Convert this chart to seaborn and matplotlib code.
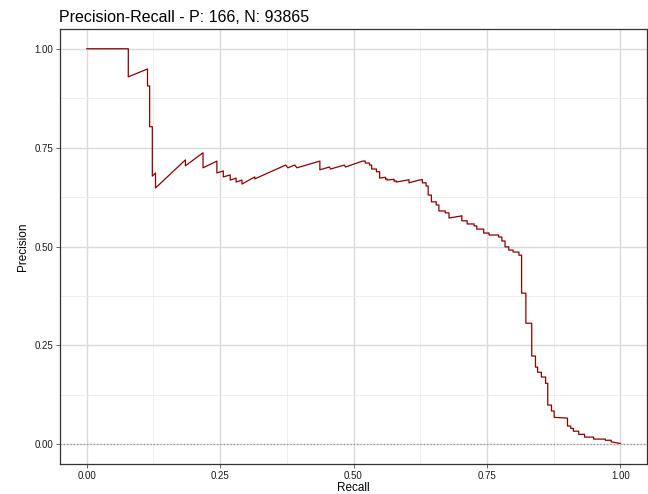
import matplotlib
matplotlib.use("Agg")
import matplotlib.pyplot as plt
import seaborn as sns
import pandas as pd

# Data
recall = [0.000, 0.078, 0.078, 0.114, 0.114, 0.118, 0.118, 0.123, 0.123, 0.129,
          0.129, 0.185, 0.185, 0.218, 0.218, 0.244, 0.244, 0.256, 0.256, 0.269,
          0.269, 0.280, 0.280, 0.291, 0.291, 0.315, 0.315, 0.373, 0.377, 0.390,
          0.394, 0.437, 0.437, 0.455, 0.457, 0.483, 0.485, 0.517,
          0.522, 0.522, 0.530, 0.530, 0.534, 0.534, 0.543, 0.543, 0.549, 0.549,
          0.560, 0.560, 0.563, 0.563, 0.576, 0.576, 0.580, 0.580, 0.601, 0.604,
          0.604, 0.623, 0.629, 0.629, 0.636, 0.636, 0.640, 0.640, 0.646, 0.646,
          0.655, 0.655, 0.660, 0.660, 0.672, 0.672, 0.679, 0.679, 0.701, 0.703,
          0.703, 0.713, 0.713, 0.726, 0.726, 0.731, 0.731, 0.744, 0.744, 0.754,
          0.754, 0.772, 0.772, 0.778, 0.778, 0.784, 0.784, 0.791, 0.791, 0.799,
          0.799, 0.810, 0.810, 0.815, 0.815, 0.823, 0.823, 0.834, 0.834, 0.841,
          0.841, 0.845, 0.845, 0.852, 0.852, 0.860, 0.860, 0.864, 0.864, 0.871,
          0.871, 0.876, 0.876, 0.901, 0.901, 0.907, 0.907, 0.912, 0.912, 0.922,
          0.922, 0.933, 0.933, 0.950, 0.950, 0.972, 0.972, 0.983, 0.983, 1.000]
precision = [1.000, 1.000, 0.929, 0.949, 0.906, 0.906, 0.803, 0.803, 0.678, 0.686,
             0.648, 0.719, 0.704, 0.737, 0.699, 0.716, 0.686, 0.691, 0.676, 0.681,
             0.668, 0.673, 0.663, 0.668, 0.658, 0.676, 0.671, 0.706, 0.699, 0.706,
             0.699, 0.716, 0.694, 0.701, 0.696, 0.706, 0.701, 0.716,
             0.716, 0.711, 0.711, 0.706, 0.706, 0.696, 0.696, 0.689, 0.689, 0.673,
             0.675, 0.670, 0.671, 0.668, 0.670, 0.665, 0.666, 0.663, 0.668, 0.669,
             0.661, 0.668, 0.669, 0.661, 0.661, 0.653, 0.653, 0.630, 0.630, 0.613,
             0.613, 0.605, 0.605, 0.590, 0.590, 0.585, 0.585, 0.572, 0.577, 0.578,
             0.565, 0.565, 0.557, 0.557, 0.552, 0.552, 0.544, 0.544, 0.534, 0.534,
             0.529, 0.529, 0.524, 0.524, 0.514, 0.514, 0.499, 0.499, 0.491, 0.491,
             0.486, 0.486, 0.478, 0.478, 0.382, 0.382, 0.306, 0.306, 0.223, 0.223,
             0.195, 0.195, 0.182, 0.182, 0.170, 0.170, 0.154, 0.154, 0.099, 0.099,
             0.084, 0.084, 0.068, 0.066, 0.046, 0.046, 0.040, 0.040, 0.033, 0.033,
             0.025, 0.025, 0.018, 0.018, 0.013, 0.013, 0.010, 0.010, 0.006, 0.002]
n_pos = 166
n_neg = 93865
baseline = n_pos / (n_pos + n_neg)
x_ticks = [0.00, 0.25, 0.50, 0.75, 1.00]
y_ticks = [0.00, 0.25, 0.50, 0.75, 1.00]

df = pd.DataFrame({"Recall": recall, "Precision": precision})

sns.set_theme(style="whitegrid")
plt.rcParams["font.family"] = ["Liberation Sans", "DejaVu Sans"]

fig = plt.figure(figsize=(6.48, 4.94), dpi=100)
ax = fig.add_axes([60 / 648, 30 / 494, 587 / 648, 435 / 494])
ax.set_facecolor("white")

ax.axhline(baseline, color="#8c8c8c", linestyle=(0, (1, 2)), linewidth=0.8, zorder=1)
sns.lineplot(data=df, x="Recall", y="Precision", sort=False, estimator=None,
             color="#8B0000", linewidth=0.9, ax=ax, zorder=3)

ax.set_xlim(-0.05, 1.05)
ax.set_ylim(-0.05, 1.05)
ax.set_xticks(x_ticks)
ax.set_yticks(y_ticks)
ax.set_xticklabels([f"{v:.2f}" for v in x_ticks])
ax.set_yticklabels([f"{v:.2f}" for v in y_ticks])
ax.set_xticks([0.125, 0.375, 0.625, 0.875], minor=True)
ax.set_yticks([0.125, 0.375, 0.625, 0.875], minor=True)
ax.grid(which="major", color="#dadada", linewidth=1.0)
ax.grid(which="minor", color="#ebebeb", linewidth=0.6)
ax.tick_params(axis="both", which="major", labelsize=7, colors="#4d4d4d",
               length=3, width=0.6, direction="out", pad=2, left=True, bottom=True)
ax.tick_params(axis="both", which="minor", length=0)
for lab in ax.get_xticklabels() + ax.get_yticklabels():
    lab.set_color("#1a1a1a")
for s in ax.spines.values():
    s.set_color("#333333")
    s.set_linewidth(0.9)

ax.set_xlabel("Recall", fontsize=8.5, color="black", labelpad=1)
ax.set_ylabel("Precision", fontsize=8.5, color="black", labelpad=4)
fig.text(59 / 648, 1 - 17 / 494, f"Precision-Recall - P: {n_pos}, N: {n_neg}",
         fontsize=11.5, color="black", ha="left", va="center")

fig.savefig("out.png", dpi=100)
